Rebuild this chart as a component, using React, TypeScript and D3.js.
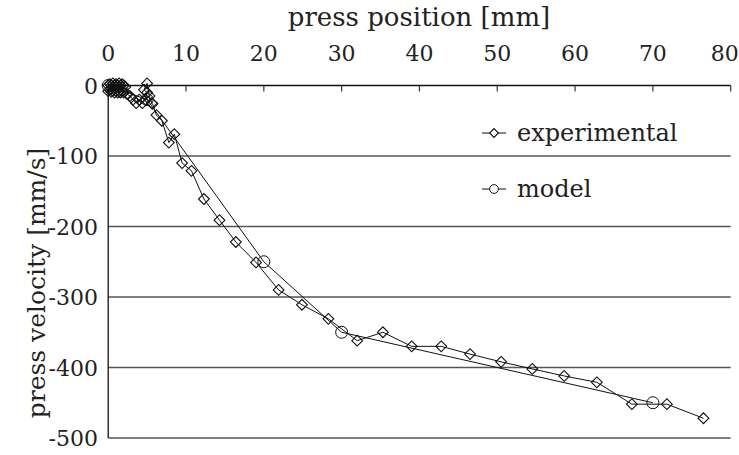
import React from "react";
import * as d3 from "d3";

// press position [mm], press velocity [mm/s]
const expX = [
  0, 0.2, 0.4, 0.6, 0.8, 1.0, 1.2, 1.4, 1.6, 1.8, 2.0, 2.2, 0, 0.2, 0.4, 0.6, 0.8, 1.0, 1.2, 1.4,
  1.6, 1.8, 2.0, 2.4, 2.8, 3.2, 3.6, 4, 4.4, 4.8, 5, 4.6, 5, 5.3, 5.6, 5.7, 6.2, 6.9, 7.8, 8.5, 9.5,
  10.7, 12.3, 14.3, 16.4, 19, 21.9, 24.9, 28.3, 32, 35.3, 39, 42.8, 46.5, 50.5, 54.5, 58.6, 62.8,
  67.3, 71.8, 76.5,
];
const expY = [
  0, 2, 0, 3, 0, 2, 0, 3, 0, 2, 0, -2, -8, -6, -9, -7, -10, -8, -10, -9, -10, -8, -10, -12, -15, -20,
  -25, -20, -25, -20, -10, -6, 3, -15, -25, -26, -42, -50, -81, -69, -110, -121, -161, -191, -222,
  -251, -290, -311, -331, -362, -350, -370, -370, -381, -392, -402, -412, -421, -452, -452, -472,
];
const modelX = [0, 5, 20, 30, 70];
const modelY = [0, -20, -250, -350, -450];

const xTicks = [0, 10, 20, 30, 40, 50, 60, 70, 80];
const yTicks = [0, -100, -200, -300, -400, -500];
const gridTicks = [-100, -200, -300, -400, -500];

const W = 739;
const H = 455;
const font = "DejaVu Serif";

export default function App() {
  const x = d3.scaleLinear().domain([0, 80]).range([108.2, 730.7]);
  const y = d3.scaleLinear().domain([0, -500]).range([85.5, 438]);

  const exp = expX.map((v, i) => [v, expY[i]]);
  const mod = modelX.map((v, i) => [v, modelY[i]]);
  const line = d3
    .line<number[]>()
    .x((d) => x(d[0]))
    .y((d) => y(d[1]));

  const diamond = d3.symbol().type(d3.symbolSquare).size(58)();
  const circle = d3.symbol().type(d3.symbolCircle).size(113)();
  const smallDiamond = d3.symbol().type(d3.symbolSquare).size(38)();
  const smallCircle = d3.symbol().type(d3.symbolCircle).size(60)();

  const x0 = x(0);
  const x1 = x(80);

  return (
    <div style={{ position: "absolute", left: 0, top: 0 }}>
      <svg width={W} height={H} style={{ display: "block", background: "#fff" }}>
        {/* grid */}
        {gridTicks.map((t) => (
          <line key={t} x1={x0} x2={x1} y1={y(t)} y2={y(t)} stroke="#555" strokeWidth={1.4} />
        ))}
        {/* top axis */}
        <line x1={x0} x2={x1} y1={y(0)} y2={y(0)} stroke="#111" strokeWidth={1.3} />
        {xTicks.map((t) => (
          <line key={t} x1={x(t)} x2={x(t)} y1={y(0)} y2={y(0) + 6} stroke="#333" strokeWidth={1.2} />
        ))}
        {/* left axis */}
        <line x1={x0} x2={x0} y1={y(0)} y2={y(-500)} stroke="#111" strokeWidth={1.3} />

        {/* tick labels */}
        {xTicks.map((t) => (
          <text key={t} x={x(t) - (t === 80 ? 6 : 0)} y={61} textAnchor="middle" fontFamily={font} fontSize={22} fill="#222">
            {t}
          </text>
        ))}
        {yTicks.map((t) => (
          <text key={t} x={98} y={y(t) + 8} textAnchor="end" fontFamily={font} fontSize={22} fill="#222">
            {t}
          </text>
        ))}

        {/* axis titles */}
        <text x={419} y={26} textAnchor="middle" fontFamily={font} fontSize={26} fill="#222">
          press position [mm]
        </text>
        <text
          transform={`translate(45, ${283}) rotate(-90)`}
          textAnchor="middle"
          fontFamily={font}
          fontSize={25}
          fill="#222"
        >
          press velocity [mm/s]
        </text>

        {/* series */}
        <path d={line(mod) || ""} fill="none" stroke="#111" strokeWidth={1} />
        <path d={line(exp) || ""} fill="none" stroke="#111" strokeWidth={1} />
        {mod.map((d, i) => (
          <path
            key={"m" + i}
            d={circle}
            transform={`translate(${x(d[0])},${y(d[1])})`}
            fill="none"
            stroke="#111"
            strokeWidth={1}
          />
        ))}
        {exp.map((d, i) => (
          <path
            key={"e" + i}
            d={diamond}
            transform={`translate(${x(d[0])},${y(d[1])}) rotate(45)`}
            fill="none"
            stroke="#111"
            strokeWidth={1.1}
          />
        ))}

        {/* legend */}
        <line x1={482} x2={506} y1={133} y2={133} stroke="#111" strokeWidth={1} />
        <path d={smallDiamond} transform="translate(494,133) rotate(45)" fill="#fff" stroke="#111" strokeWidth={1.1} />
        <text x={517} y={141} fontFamily={font} fontSize={24} fill="#222">
          experimental
        </text>
        <line x1={482} x2={506} y1={189} y2={189} stroke="#111" strokeWidth={1} />
        <path d={smallCircle} transform="translate(494,189)" fill="#fff" stroke="#111" strokeWidth={1} />
        <text x={517} y={197} fontFamily={font} fontSize={24} fill="#222">
          model
        </text>
      </svg>
    </div>
  );
}
